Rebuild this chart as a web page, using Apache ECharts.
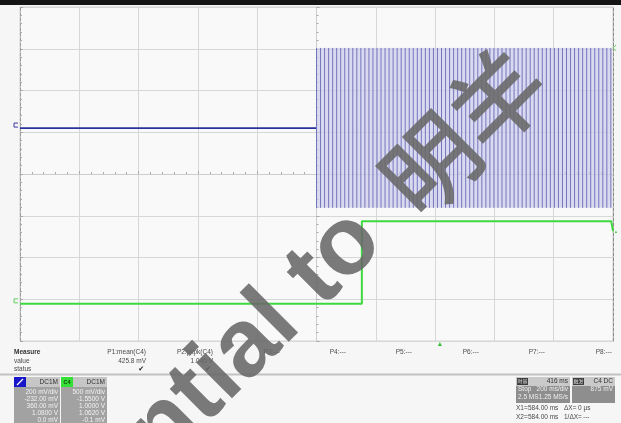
<!DOCTYPE html>
<html>
<head>
<meta charset="utf-8">
<script src="https://cdn.jsdelivr.net/npm/echarts@6/dist/echarts.min.js"></script>
<style>
  html, body { margin: 0; padding: 0; background: #f6f6f6; }
  #chart { width: 621px; height: 423px; }
</style>
</head>
<body>
<div id="chart"></div>
<script>
// Screen: 10 horizontal divisions of 200 ms (time relative to screen centre), 8 vertical divisions
const timeRange = [-1000, 1000];
const timePerDiv = 200;
const divRange = [-4, 4];

// C1 (blue): idle level, then a burst of edges between two levels
const c1IdleTime = [-1000, 0];
const c1IdleLevel = [1.10, 1.10];
const c1BurstLevels = [-0.81, 3.02];   // low, high (div)
const c1BurstSpan = [0, 995];          // ms
const c1EdgeSpacing = 13.6;            // ms between edges

// C4 (green): low level, step up, small sag at the right edge
const c4Time = [-1000, 153, 153, 994, 1000];
const c4Level = [-3.11, -3.11, -1.13, -1.13, -1.37];

// Trigger position (ms)
const triggerTime = 416;

// Readouts under the screen
const measureNames = ['P1:mean(C4)', 'P2:pkpk(C4)', 'P3:---', 'P4:---', 'P5:---', 'P6:---', 'P7:---', 'P8:---'];
const measureValues = ['425.8 mV', '1.045 V', '', '', '', '', '', ''];
const measureStatus = ['✔', '✔', '', '', '', '', '', ''];
const c1Readout = ['DC1M', '200 mV/div', '-232.00 mV', '360.00 mV', '1.0800 V', '0.0 mV'];
const c4Readout = ['DC1M', '500 mV/div', '-1.5500 V', '1.0000 V', '1.0620 V', '-0.1 mV'];
const timebaseReadout = ['时基', '416 ms', 'Stop', '200 ms/div', '2.5 MS', '1.25 MS/s'];
const triggerReadout = ['触发', 'C4 DC', '875 mV'];
const cursorReadout = [['X1=', '584.00 ms', 'ΔX=', '0 μs'], ['X2=', '584.00 ms', '1/ΔX=', '---']];

// Build the traces
const c1IdleData = c1IdleTime.map((t, i) => [t, c1IdleLevel[i]]);
const c1BurstData = [];
const edgeCount = Math.floor((c1BurstSpan[1] - c1BurstSpan[0]) / c1EdgeSpacing);
for (let k = 0; k <= edgeCount; k++) {
  const t = c1BurstSpan[0] + k * c1EdgeSpacing;
  c1BurstData.push([t, c1BurstLevels[0]], [t, c1BurstLevels[1]], [t, null]);
}
const c4Data = c4Time.map((t, i) => [t, c4Level[i]]);

const chart = echarts.init(document.getElementById('chart'));

const tickStyle = { color: '#a8a8a8', width: 1 };
const gridLine = { lineStyle: { color: '#d7d7d7', width: 1 } };

chart.setOption({
  animation: false,
  backgroundColor: '#f6f6f6',
  textStyle: { fontFamily: 'Liberation Sans' },
  grid: {
    left: 20, right: 8, top: 7, bottom: 82,
    show: true, backgroundColor: '#f9f9f9', borderColor: '#d2d2d2', borderWidth: 1
  },
  xAxis: {
    type: 'value', min: timeRange[0], max: timeRange[1], interval: timePerDiv,
    axisLabel: { show: false },
    axisLine: { onZero: true, lineStyle: { color: '#cdcdcd' } },
    axisTick: { show: true, inside: true, length: 3, lineStyle: tickStyle },
    minorTick: { show: true, splitNumber: 5, length: 2, lineStyle: tickStyle },
    splitLine: gridLine
  },
  yAxis: [
    {
      type: 'value', min: divRange[0], max: divRange[1], interval: 1,
      axisLabel: { show: false },
      axisLine: { onZero: true, lineStyle: { color: '#cdcdcd' } },
      axisTick: { show: true, inside: true, length: 3, lineStyle: tickStyle },
      minorTick: { show: true, splitNumber: 5, length: 2, lineStyle: tickStyle },
      splitLine: gridLine
    },
    {
      type: 'value', min: divRange[0], max: divRange[1], interval: 1, position: 'left',
      axisLabel: { show: false },
      axisLine: { show: true, onZero: false, lineStyle: { color: '#9c9c9c', type: [3, 2] } },
      axisTick: { show: true, inside: true, length: 3, lineStyle: tickStyle },
      minorTick: { show: true, splitNumber: 5, length: 2, lineStyle: tickStyle },
      splitLine: { show: false }
    },
    {
      type: 'value', min: divRange[0], max: divRange[1], interval: 1, position: 'right',
      axisLabel: { show: false },
      axisLine: { show: true, onZero: false, lineStyle: { color: '#8a8a8a', type: [3, 2] } },
      axisTick: { show: false },
      splitLine: { show: false }
    }
  ],
  series: [
    {
      type: 'line', name: 'C1', data: c1IdleData, symbol: 'none',
      lineStyle: { color: '#2b309c', width: 1.7 }, z: 3
    },
    {
      type: 'line', name: 'C1 burst', data: c1BurstData, symbol: 'none', connectNulls: false,
      lineStyle: { color: '#6a6ab8', width: 0.9 }, z: 3,
      markArea: {
        silent: true,
        itemStyle: { color: 'rgba(204,204,236,0.7)' },
        data: [[{ coord: [c1BurstSpan[0], c1BurstLevels[0]] }, { coord: [c1BurstSpan[1], c1BurstLevels[1]] }]]
      }
    },
    {
      type: 'line', name: 'C4', data: c4Data, symbol: 'none',
      lineStyle: { color: '#3fd93f', width: 2 }, z: 4
    }
  ]
});

// Decorations and readouts
const px = (t, d) => chart.convertToPixel({ xAxisIndex: 0, yAxisIndex: 0 }, [t, d]);
const font = 'Liberation Sans';
const g = [];
const txt = (x, y, s, o) => g.push(Object.assign({
  type: 'text', x, y, z: 50, silent: true,
  style: Object.assign({ text: s, fill: '#4a4a4a', font: '6.5px ' + font, align: 'left', verticalAlign: 'middle' }, (o && o.style) || {})
}, o ? { z: o.z || 50 } : {}));
const rect = (x, y, w, h, fill, z) => g.push({ type: 'rect', silent: true, z: z || 40, shape: { x, y, width: w, height: h }, style: { fill } });

// top bar
rect(0, 0, 621, 5, '#151515');

// separator under the measure table
g.push({ type: 'line', silent: true, z: 40, shape: { x1: 0, y1: 374.5, x2: 621, y2: 374.5 }, style: { stroke: '#c2c2c2', lineWidth: 2 } });

// measure table
txt(14, 352, 'Measure', { style: { font: 'bold 6.5px ' + font, fill: '#333' } });
txt(14, 361, 'value');
txt(14, 369, 'status');
const colRight = [146, 213, 280, 346, 412, 479, 545, 612];
measureNames.forEach((n, i) => {
  txt(colRight[i], 352, n, { style: { align: 'right' } });
  if (measureValues[i]) txt(colRight[i], 361, measureValues[i], { style: { align: 'right' } });
  if (measureStatus[i]) txt(colRight[i] - 2, 369, measureStatus[i], { style: { align: 'right', fill: '#222', font: '7px DejaVu Sans' } });
});

// channel readout boxes
function channelBox(x0, color, label, rows) {
  rect(x0, 377, 46, 46, '#a2a2a2');
  rect(x0, 377, 46, 10, '#c6c6c6');
  rect(x0, 377, 12, 10, color, 41);
  if (label) txt(x0 + 6, 382, label, { style: { align: 'center', fill: '#114411', font: 'bold 5.5px ' + font }, z: 51 });
  else g.push({ type: 'line', silent: true, z: 42, shape: { x1: x0 + 3, y1: 385, x2: x0 + 9, y2: 379 }, style: { stroke: '#fff', lineWidth: 1.2 } });
  txt(x0 + 44, 382, rows[0], { style: { align: 'right', fill: '#333' } });
  rows.slice(1).forEach((r, i) => txt(x0 + 44, 392 + i * 7, r, { style: { align: 'right', fill: '#f2f2f2' } }));
}
channelBox(14, '#1717c9', '', c1Readout);
channelBox(61, '#35df35', 'C4', c4Readout);

// timebase / trigger boxes
rect(516, 377, 54, 26, '#8e8e8e');
rect(516, 377, 54, 9, '#cacaca');
rect(517, 378, 11, 7, '#3a3a3a', 41);
txt(522.5, 381.5, timebaseReadout[0], { style: { align: 'center', fill: '#ddd', font: '5px Noto Sans CJK SC' }, z: 51 });
txt(568, 381.5, timebaseReadout[1], { style: { align: 'right', fill: '#333' } });
txt(518, 389.5, timebaseReadout[2], { style: { fill: '#eee' } });
txt(568, 389.5, timebaseReadout[3], { style: { align: 'right', fill: '#eee' } });
txt(518, 397, timebaseReadout[4], { style: { fill: '#eee' } });
txt(568, 397, timebaseReadout[5], { style: { align: 'right', fill: '#eee' } });
rect(572, 377, 43, 26, '#8e8e8e');
rect(572, 377, 43, 9, '#cacaca');
rect(573, 378, 11, 7, '#3a3a3a', 41);
txt(578.5, 381.5, triggerReadout[0], { style: { align: 'center', fill: '#ddd', font: '5px Noto Sans CJK SC' }, z: 51 });
txt(613, 381.5, triggerReadout[1], { style: { align: 'right', fill: '#333' } });
txt(613, 389.5, triggerReadout[2], { style: { align: 'right', fill: '#eee' } });

// cursor readouts
cursorReadout.forEach((row, i) => {
  const y = 408 + i * 9;
  txt(516, y, row[0]);
  txt(528, y, row[1]);
  txt(564, y, row[2]);
  txt(i === 0 ? 578 : 583, y, row[3]);
});

// channel offset markers and trigger arrow
const m1 = px(timeRange[0], c1IdleLevel[0]);
g.push({ type: 'polyline', silent: true, z: 45, shape: { points: [[m1[0] - 2, m1[1] - 5], [m1[0] - 6, m1[1] - 5], [m1[0] - 6, m1[1] - 1], [m1[0] - 2, m1[1] - 1]] }, style: { stroke: '#3a3aa8', lineWidth: 1, fill: null } });
const m4 = px(timeRange[0], c4Level[0]);
g.push({ type: 'polyline', silent: true, z: 45, shape: { points: [[m4[0] - 2, m4[1] - 5], [m4[0] - 6, m4[1] - 5], [m4[0] - 6, m4[1] - 1], [m4[0] - 2, m4[1] - 1]] }, style: { stroke: '#5fd25f', lineWidth: 1, fill: null } });
const mr = px(timeRange[1], c1BurstLevels[1]);
g.push({ type: 'polyline', silent: true, z: 45, shape: { points: [[mr[0] + 3, mr[1] - 3], [mr[0], mr[1]], [mr[0] + 3, mr[1] + 3]] }, style: { stroke: '#5fcf5f', lineWidth: 1, fill: null } });
const me = px(timeRange[1], c4Level[c4Level.length - 1]);
g.push({ type: 'line', silent: true, z: 45, shape: { x1: me[0] + 2, y1: me[1] + 1, x2: me[0] + 4, y2: me[1] + 1 }, style: { stroke: '#4fcf4f', lineWidth: 1.5 } });
const tr = px(triggerTime, divRange[0]);
g.push({ type: 'polygon', silent: true, z: 45, shape: { points: [[tr[0], tr[1] + 1], [tr[0] - 2, tr[1] + 5], [tr[0] + 2, tr[1] + 5]] }, style: { fill: '#3bbf3b' } });

// watermark
g.push({
  type: 'text', silent: true, z: 100, x: 367, y: 226, rotation: Math.PI / 4,
  style: { text: 'Confidential to', fill: 'rgba(104,104,104,0.88)', font: 'bold 96px Liberation Sans', align: 'right', verticalAlign: 'middle' }
});
g.push({
  type: 'text', silent: true, z: 100, x: 397, y: 198, rotation: Math.PI / 4,
  style: { text: '明羊', fill: 'rgba(104,104,104,0.88)', font: '500 94px Noto Sans CJK SC', align: 'left', verticalAlign: 'middle' }
});

chart.setOption({ graphic: g });
</script>
</body>
</html>
